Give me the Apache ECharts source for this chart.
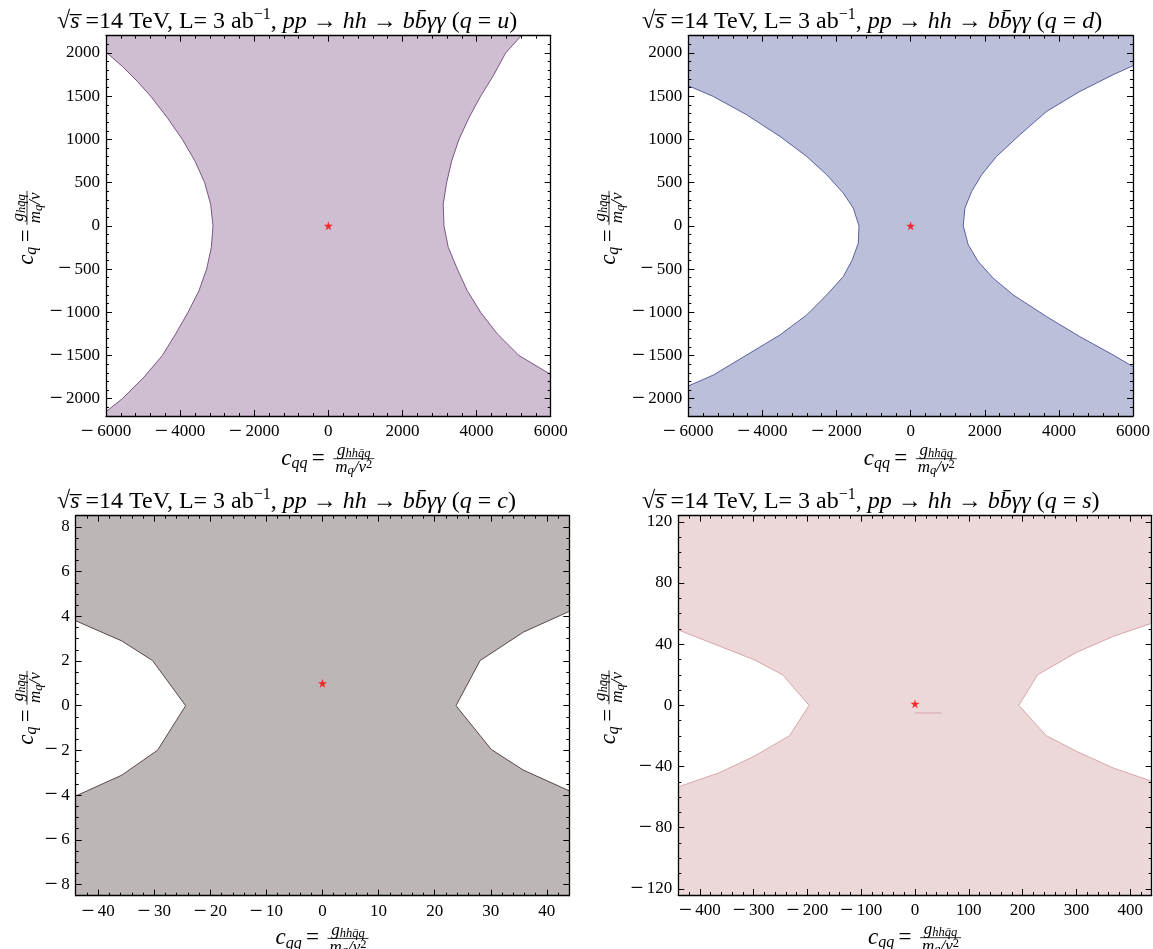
<!DOCTYPE html>
<html><head><meta charset="utf-8">
<script src="https://cdn.jsdelivr.net/npm/echarts@6/dist/echarts.min.js"></script>
<style>html,body{margin:0;padding:0;background:#fff}#c{width:1153px;height:949px}</style>
</head><body><div id="c"></div>
<script>
// ---------------- data ----------------
// q = u : boundary curves of the allowed region (top -> bottom)
const uLeft = [[-6000,2010],[-5560,1845],[-5150,1670],[-4795,1500],[-4345,1250],[-3940,1000],[-3599,750],[-3338,500],[-3176,250],[-3113,0],[-3158,-250],[-3284,-500],[-3491,-750],[-3788,-1000],[-4120,-1250],[-4480,-1500],[-4975,-1750],[-5560,-2000],[-6000,-2150]];
const uRight = [[5206,2200],[4784,2000],[4469,1750],[4109,1500],[3794,1250],[3525,1000],[3327,750],[3192,500],[3100,250],[3120,0],[3237,-250],[3480,-500],[3749,-750],[4109,-1000],[4559,-1250],[5143,-1500],[6000,-1720]];
// q = d
const dLeft = [[-6000,1621],[-5324,1497],[-4423,1285],[-3525,1034],[-2805,803],[-2265,591],[-1818,379],[-1548,205],[-1394,0],[-1413,-200],[-1575,-394],[-1818,-587],[-2265,-799],[-2805,-1031],[-3525,-1262],[-4423,-1494],[-5324,-1726],[-6000,-1853]];
const dRight = [[6000,1853],[5464,1749],[4566,1555],[3668,1324],[2948,1054],[2319,803],[1915,591],[1645,397],[1464,205],[1419,0],[1554,-220],[1823,-413],[2228,-606],[2767,-799],[3668,-1050],[4566,-1282],[5464,-1494],[6000,-1629]];
// q = c
const cLeft = [[-44,3.8],[-35.8,2.9],[-30.3,2.02],[-24.4,0],[-29.4,-1.99],[-35.8,-3.11],[-44,-4.04]];
const cRight = [[44,4.22],[35.8,3.29],[28.1,2.02],[23.8,0],[30.1,-1.96],[35.8,-2.88],[44,-3.81]];
// q = s
const sLeft = [[-440,49.3],[-299,29.8],[-246,20],[-197,0],[-233,-19.8],[-299,-33.3],[-364,-44.1],[-440,-53.3]];
const sRight = [[440,53.7],[368,45],[300,34.6],[228,20],[193,0],[244,-19.8],[300,-30],[368,-40.9],[440,-49.6]];
const sStub = [[0,-5],[50,-5]];
// best-fit / SM points
const uStar = [0,0];
const dStar = [0,0];
const cStar = [0,1];
const sStar = [0,1];
// axis ranges and tick labels
const bigXRange = [-6000,6000];
const bigYRange = [-2200,2200];
const bigXTicks = [-6000,-4000,-2000,0,2000,4000,6000];
const bigYTicks = [-2000,-1500,-1000,-500,0,500,1000,1500,2000];
const cXRange = [-44,44];
const cYRange = [-8.5,8.5];
const cXTicks = [-40,-30,-20,-10,0,10,20,30,40];
const cYTicks = [-8,-6,-4,-2,0,2,4,6,8];
const sXRange = [-440,440];
const sYRange = [-124,124];
const sXTicks = [-400,-300,-200,-100,0,100,200,300,400];
const sYTicks = [-120,-80,-40,0,40,80,120];
const quarks = ['u','d','c','s'];

// ---------------- layout / style ----------------
const FONT = "'Liberation Serif','DejaVu Serif',serif";
const STAR = 'path://M50,0 L61,35 L98,35 L68,57 L79,91 L50,70 L21,91 L32,57 L2,35 L39,35 Z';
const panels = [
  {grid:{left:106,top:35.7,width:444.7,height:380.3}, xr:bigXRange, yr:bigYRange, xMaj:bigXTicks, yMaj:bigYTicks, xStep:400, yStep:100,
   left:uLeft, right:uRight, star:uStar, fill:'#cfbdd2', edge:'#7b5585', q:quarks[0], ylabX:27, titleX:57},
  {grid:{left:688.3,top:35.7,width:445,height:380.3}, xr:bigXRange, yr:bigYRange, xMaj:bigXTicks, yMaj:bigYTicks, xStep:400, yStep:100,
   left:dLeft, right:dRight, star:dStar, fill:'#bcbfda', edge:'#5a619f', q:quarks[1], ylabX:609, titleX:642},
  {grid:{left:75.7,top:515.7,width:493.6,height:380}, xr:cXRange, yr:cYRange, xMaj:cXTicks, yMaj:cYTicks, xStep:2, yStep:0.5,
   left:cLeft, right:cRight, star:cStar, fill:'#bcb6b6', edge:'#5b4848', q:quarks[2], ylabX:27, titleX:57},
  {grid:{left:678.3,top:515.7,width:473.4,height:379.3}, xr:sXRange, yr:sYRange, xMaj:sXTicks, yMaj:sYTicks, xStep:20, yStep:10,
   left:sLeft, right:sRight, star:sStar, fill:'#ecd7d9', edge:'#d9a6ab', q:quarks[3], ylabX:609, titleX:642, stub:sStub}
];

function fmt(v){ return v < 0 ? '{m|\u2212}{n|\u2009' + (-v) + '}' : '{n|' + v + '}'; }
const tickRich = {
  m:{fontFamily:FONT, fontSize:23, color:'#000', lineHeight:20},
  n:{fontFamily:FONT, fontSize:17, color:'#000', lineHeight:20}
};
function minorVals(r, step){
  const out = [];
  const k0 = Math.ceil(r[0]/step - 1e-9), k1 = Math.floor(r[1]/step + 1e-9);
  for (let k = k0; k <= k1; k++) out.push(Math.round(k*step*1e6)/1e6);
  return out;
}
function mkAxis(gi, position, range, values, len, showLine, labels){
  return {
    type:'value', gridIndex:gi, position, min:range[0], max:range[1], z:10,
    axisLine:{show:showLine, onZero:false, lineStyle:{color:'#000', width:1.3}},
    axisTick:{show:true, inside:true, length:len, customValues:values, lineStyle:{color:'#000', width:1}},
    axisLabel: labels ? {show:true, customValues:values, formatter:fmt, rich:tickRich, fontFamily:FONT, fontSize:17, color:'#000', margin:6} : {show:false},
    splitLine:{show:false}, minorTick:{show:false}, minorSplitLine:{show:false}
  };
}

const xAxis = [], yAxis = [], series = [], graphic = [];
const titleRich = {
  r:{fontFamily:FONT, fontSize:24, fill:'#000', lineHeight:30, verticalAlign:'middle'},
  i:{fontFamily:FONT, fontSize:24, fontStyle:'italic', fill:'#000', lineHeight:30, verticalAlign:'middle'},
  sup:{fontFamily:FONT, fontSize:16, fill:'#000', lineHeight:16, verticalAlign:'top'}
};
const labRich = {
  m:{fontFamily:FONT, fontSize:23, fontStyle:'italic', fill:'#000', lineHeight:26, verticalAlign:'middle'},
  sub:{fontFamily:FONT, fontSize:16, fontStyle:'italic', fill:'#000', lineHeight:16, verticalAlign:'bottom'},
  f:{fontFamily:FONT, fontSize:17, fontStyle:'italic', fill:'#000', lineHeight:19, verticalAlign:'middle'},
  fs:{fontFamily:FONT, fontSize:12.5, fontStyle:'italic', fill:'#000', lineHeight:12, verticalAlign:'bottom'},
  fsup:{fontFamily:FONT, fontSize:12.5, fill:'#000', lineHeight:12, verticalAlign:'top'},
  eq:{fontFamily:FONT, fontSize:23, fill:'#000', lineHeight:26, verticalAlign:'middle'}
};

panels.forEach((p, i) => {
  xAxis.push(mkAxis(i,'bottom',p.xr,p.xMaj,6,true,true));
  xAxis.push(mkAxis(i,'bottom',p.xr,minorVals(p.xr,p.xStep),3,false,false));
  xAxis.push(mkAxis(i,'top',p.xr,p.xMaj,6,true,false));
  xAxis.push(mkAxis(i,'top',p.xr,minorVals(p.xr,p.xStep),3,false,false));
  yAxis.push(mkAxis(i,'left',p.yr,p.yMaj,6,true,true));
  yAxis.push(mkAxis(i,'left',p.yr,minorVals(p.yr,p.yStep),3,false,false));
  yAxis.push(mkAxis(i,'right',p.yr,p.yMaj,6,true,false));
  yAxis.push(mkAxis(i,'right',p.yr,minorVals(p.yr,p.yStep),3,false,false));

  // allowed region polygon = frame minus the two excluded regions
  const poly = [[p.xr[0],p.yr[1]],[p.xr[1],p.yr[1]]]
    .concat(p.right)
    .concat([[p.xr[1],p.yr[0]],[p.xr[0],p.yr[0]]])
    .concat(p.left.slice().reverse());
  const ax = 4*i;
  series.push({
    type:'custom', xAxisIndex:ax, yAxisIndex:ax, data:[[0,0]], silent:true, z:1, clip:true,
    renderItem:(params, api) => ({type:'polygon', shape:{points:poly.map(pt => api.coord(pt))}, style:{fill:p.fill}})
  });
  [p.left, p.right].forEach(curve => series.push({
    type:'line', xAxisIndex:ax, yAxisIndex:ax, data:curve, showSymbol:false, silent:true, z:3, clip:true,
    lineStyle:{color:p.edge, width:1}
  }));
  if (p.stub) series.push({type:'line', xAxisIndex:ax, yAxisIndex:ax, data:p.stub, showSymbol:false, silent:true, z:3,
    lineStyle:{color:p.edge, width:1}});
  series.push({type:'scatter', xAxisIndex:ax, yAxisIndex:ax, data:[p.star], symbol:STAR, symbolSize:9, z:5,
    itemStyle:{color:'#ff0000'}});

  // title
  const g = p.grid;
  graphic.push({type:'text', x:p.titleX, y:g.top-14, silent:true, style:{
    text:`{r|√}{i|s\u0305}{r| =14 TeV, L= 3 ab}{sup|\u22121}{r|, }{i|pp}{r| → }{i|hh}{r| → }{i|bb\u0304γγ}{r| (}{i|q}{r| = }{i|${p.q}}{r|)}`,
    rich:titleRich, align:'left', verticalAlign:'middle'}});

  // x axis title
  const cx = g.left + g.width/2, y0 = g.top + g.height, by = y0 + 42.7;
  graphic.push({type:'group', silent:true, children:[
    {type:'text', x:cx-47, y:by, style:{text:'{m|c}{sub|qq}', rich:labRich, align:'left', verticalAlign:'middle'}},
    {type:'text', x:cx-10, y:by, style:{text:'{eq|=}', rich:labRich, align:'center', verticalAlign:'middle'}},
    {type:'line', shape:{x1:cx+5, y1:by, x2:cx+46, y2:by}, style:{stroke:'#000', lineWidth:0.8}},
    {type:'text', x:cx+25.5, y:by-8, style:{text:'{f|g}{fs|hhq\u0304q}', rich:labRich, align:'center', verticalAlign:'middle'}},
    {type:'text', x:cx+25.5, y:by+9, style:{text:'{f|m}{fs|q}{f|/v}{fsup|2}', rich:labRich, align:'center', verticalAlign:'middle'}}
  ]});

  // y axis title (rotated)
  const cy = g.top + g.height/2;
  graphic.push({type:'group', x:p.ylabX, y:cy, rotation:Math.PI/2, silent:true, children:[
    {type:'text', x:-39, y:0, style:{text:'{m|c}{sub|q}', rich:labRich, align:'left', verticalAlign:'middle'}},
    {type:'text', x:-10, y:0, style:{text:'{eq|=}', rich:labRich, align:'center', verticalAlign:'middle'}},
    {type:'line', shape:{x1:1, y1:0, x2:35, y2:0}, style:{stroke:'#000', lineWidth:0.8}},
    {type:'text', x:18, y:-8, style:{text:'{f|g}{fs|hq\u0304q}', rich:labRich, align:'center', verticalAlign:'middle'}},
    {type:'text', x:18, y:9, style:{text:'{f|m}{fs|q}{f|/v}', rich:labRich, align:'center', verticalAlign:'middle'}}
  ]});
});

const chart = echarts.init(document.getElementById('c'), null, {renderer:'canvas'});
chart.setOption({
  animation:false,
  backgroundColor:'#ffffff',
  grid: panels.map(p => Object.assign({show:false}, p.grid)),
  xAxis, yAxis, series, graphic
});
</script></body></html>
